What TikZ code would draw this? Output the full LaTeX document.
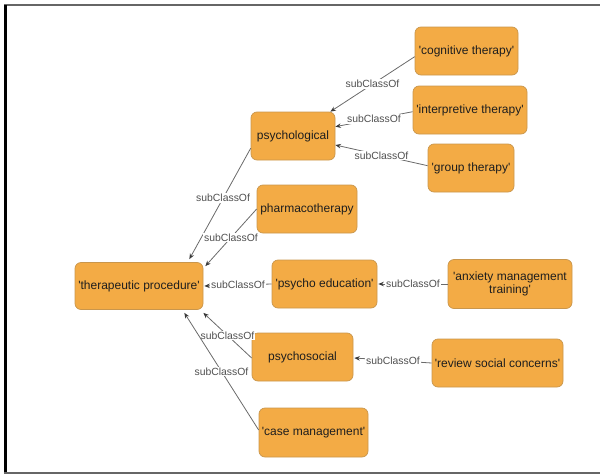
\documentclass[tikz,border=0pt]{standalone}
\usepackage{fontspec}
\setmainfont{Liberation Sans}
\usetikzlibrary{arrows.meta}
\newcommand{\sq}{\textquotesingle}
\definecolor{boxfill}{HTML}{F3AB45}
\definecolor{boxdraw}{HTML}{C9964C}
\definecolor{edgecol}{HTML}{6A6A6A}
\definecolor{tipcol}{HTML}{3A3A3A}
\definecolor{labcol}{HTML}{505050}
\definecolor{txtcol}{HTML}{1E1E1E}
\tikzset{
  cls/.style={draw=boxdraw, fill=boxfill, line width=0.7pt, rounded corners=6pt,
    inner sep=0pt, text=txtcol, font=\fontsize{12}{13.5}\selectfont, align=center},
  rel/.style={draw=edgecol, line width=0.8pt, -{Stealth[length=5.5pt,width=4.5pt,color=tipcol]}},
  lab/.style={fill=white, inner sep=1pt, text=labcol, font=\fontsize{10.4}{12}\selectfont},
}
\begin{document}
\begin{tikzpicture}[x=1pt,y=-1pt]
\useasboundingbox (0,0) rectangle (600,474);
% frame
\draw[line width=2pt, color=gray!80!black] (4,5) -- (600,5);
\draw[line width=2.5pt, color=black] (5.5,5) -- (5.5,474);
\draw[line width=2pt, color=gray!80!black] (4,472.5) -- (600,472.5);

% nodes
\node[cls, minimum width=103pt, minimum height=48pt] (cog) at (466.5,51) {\sq cognitive therapy\sq};
\node[cls, minimum width=114pt, minimum height=48pt] (interp) at (470,110) {\sq interpretive therapy\sq};
\node[cls, minimum width=86pt, minimum height=48pt] (group) at (471,168) {\sq group therapy\sq};
\node[cls, minimum width=84pt, minimum height=48pt] (psych) at (293,136) {psychological};
\node[cls, minimum width=100pt, minimum height=48pt] (pharma) at (307,209) {pharmacotherapy};
\node[cls, minimum width=128pt, minimum height=47pt] (ther) at (139,286) {\sq therapeutic procedure\sq};
\node[cls, minimum width=105pt, minimum height=48pt] (psyed) at (324.5,284) {\sq psycho education\sq};
\node[cls, minimum width=124pt, minimum height=49pt] (anx) at (510,284) {\sq anxiety management\\training\sq};
\node[cls, minimum width=101pt, minimum height=48pt] (psysoc) at (302.5,357) {psychosocial};
\node[cls, minimum width=131pt, minimum height=48pt] (review) at (497.5,363) {\sq review social concerns\sq};
\node[cls, minimum width=109pt, minimum height=49pt] (case) at (313.5,432.5) {\sq case management\sq};

% edges
\draw[rel] ([yshift=-5.7pt]cog.west) -- node[lab]{subClassOf} ([xshift=-5pt]psych.north east);
\draw[rel] ([yshift=-1.7pt]interp.west) -- node[lab]{subClassOf} ([yshift=9.3pt]psych.east);
\draw[rel] ([yshift=2.3pt]group.west) -- node[lab]{subClassOf} ([yshift=-9pt]psych.east);
\draw[rel] ([yshift=-12.3pt]psych.west) -- node[lab, pos=0.45]{subClassOf} ([xshift=-14pt,yshift=3pt]ther.north east);
\draw[rel] (pharma.west) -- node[lab]{subClassOf} ([xshift=2pt,yshift=-4pt]ther.north east);
\draw[rel] (psyed.west) -- node[lab]{subClassOf} ([xshift=1pt]ther.east);
\draw[rel] (anx.west) -- node[lab]{subClassOf} ([xshift=1pt]psyed.east);
\draw[rel] ([yshift=-1pt]psysoc.west) -- node[lab]{subClassOf} ([yshift=-3pt]ther.south east);
\draw[rel] (review.west) -- node[lab]{subClassOf} ([xshift=1pt,yshift=-1pt]psysoc.east);
\draw[rel] ([yshift=2.5pt]case.west) -- node[lab]{subClassOf} ([xshift=-19pt,yshift=-3pt]ther.south east);
\end{tikzpicture}
\end{document}
